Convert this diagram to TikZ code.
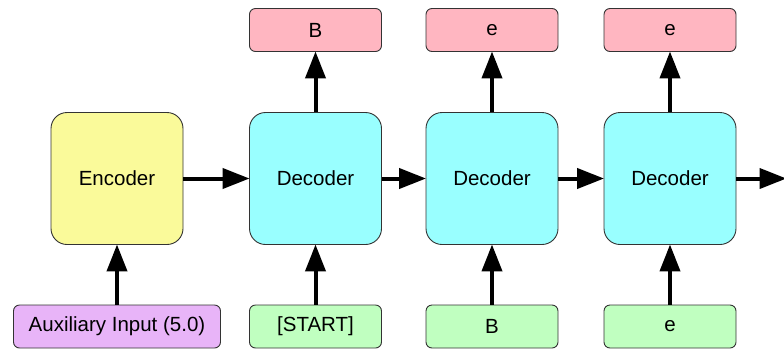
\documentclass[tikz,border=0pt]{standalone}
\usepackage{fontspec}
\setmainfont{Liberation Sans}
\usetikzlibrary{arrows.meta}
\definecolor{encfill}{HTML}{FAFA9A}
\definecolor{decfill}{HTML}{99FFFF}
\definecolor{outfill}{HTML}{FFB6C1}
\definecolor{infill}{HTML}{C0FFC0}
\definecolor{auxfill}{HTML}{E8B4F8}
\tikzset{
  bigbox/.style={draw=black!80, line width=0.9pt, rounded corners=16pt, minimum width=132pt, minimum height=132pt, inner sep=0pt, font=\fontsize{20.5}{24}\selectfont},
  smallbox/.style={draw=black!80, line width=0.9pt, rounded corners=6pt, minimum width=132pt, minimum height=43pt, inner sep=0pt, font=\fontsize{20.5}{24}\selectfont},
  conn/.style={line width=4pt, -{Triangle[length=27pt, width=20pt]}, shorten >=-0.5pt}
}
\begin{document}
\begin{tikzpicture}[x=1pt, y=-1pt]
\useasboundingbox (0,0) rectangle (784,349);
\node[bigbox, fill=encfill] (enc) at (117,178.5) {Encoder};
\node[bigbox, fill=decfill] (d1) at (315.5,178.5) {Decoder};
\node[bigbox, fill=decfill] (d2) at (492,178.5) {Decoder};
\node[bigbox, fill=decfill] (d3) at (670,178.5) {Decoder};
\node[smallbox, fill=outfill] (o1) at (315.5,30) {B};
\node[smallbox, fill=outfill] (o2) at (492,30) {e};
\node[smallbox, fill=outfill] (o3) at (670,30) {e};
\node[smallbox, fill=auxfill, minimum width=207pt] (aux) at (117,326.5) {Auxiliary Input (5.0)};
\node[smallbox, fill=infill] (i1) at (315.5,326.5) {[START]};
\node[smallbox, fill=infill] (i2) at (492,326.5) {B};
\node[smallbox, fill=infill] (i3) at (670,326.5) {e};
\coordinate (end) at (786,178.5);
\draw[conn] (enc) -- (d1);
\draw[conn] (d1) -- (d2);
\draw[conn] (d2) -- (d3);
\draw[conn] (d3.east) -- (end);
\draw[conn] (aux) -- (enc);
\draw[conn] (i1) -- (d1);
\draw[conn] (i2) -- (d2);
\draw[conn] (i3) -- (d3);
\draw[conn] (d1) -- (o1);
\draw[conn] (d2) -- (o2);
\draw[conn] (d3) -- (o3);
\end{tikzpicture}
\end{document}
